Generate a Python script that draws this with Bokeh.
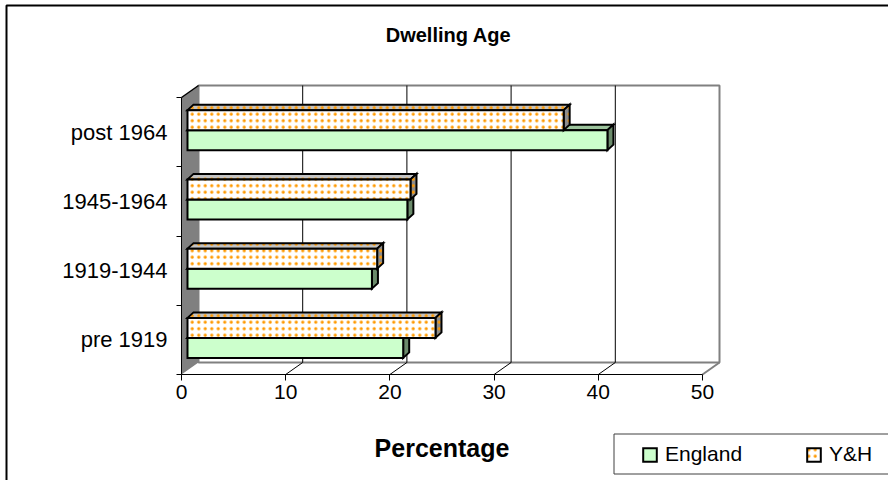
from bokeh.plotting import figure
from bokeh.models import (Range1d, FixedTicker, Legend, LegendItem, Label,
                          PolyAnnotation)
from bokeh.embed import file_html
from bokeh.resources import INLINE

# ---------------- data ----------------
categories = ["pre 1919", "1919-1944", "1945-1964", "post 1964"]
england = [20.7, 17.7, 21.1, 40.3]
yh = [23.8, 18.2, 21.4, 36.1]
x_ticks = [0, 10, 20, 30, 40, 50]
series_names = ["England", "Y&H"]
title_text = "Dwelling Age"
x_title = "Percentage"

# ---------------- geometry (canvas pixels) ----------------
FONT = "Liberation Sans"
W, H = 888, 480
AX_X0, AX_X_END = 181, 702     # front-plane pixels of first / last tick
AX_Y_BOT, AX_Y_TOP = 374, 97   # front-plane pixels of category axis ends
n = len(categories)
x_hi = x_ticks[-1]
PX_X = (AX_X_END - AX_X0) / x_hi
PX_Y = (AX_Y_BOT - AX_Y_TOP) / n


def dx(px):
    return px / PX_X


def dy(px):
    return px / PX_Y


def X(px):
    return (px - AX_X0) / PX_X


def Y(py):
    return -0.5 + (AX_Y_BOT - py) / PX_Y


y_lo, y_hi = -0.5, n - 0.5
D_X, D_Y = dx(17), dy(12)          # depth of the 3D box
BAR_OX, BAR_OY = dx(6), dy(2)      # bar front plane offset
BAR_H = dy(20)
BD_X, BD_Y = dx(6), dy(5.5)        # bar depth

p = figure(width=W, height=H,
           x_range=Range1d(X(0), X(W)), y_range=Range1d(Y(H), Y(0)),
           min_border=0, min_border_left=0, min_border_right=0,
           min_border_top=0, min_border_bottom=0,
           toolbar_location=None, output_backend="svg")
p.xgrid.visible = False
p.ygrid.visible = False
p.outline_line_color = None
p.background_fill_color = "white"
p.border_fill_color = "white"

# ---------------- 3D walls ----------------
p.patch([D_X, x_hi + D_X, x_hi + D_X, D_X],
        [y_lo + D_Y, y_lo + D_Y, y_hi + D_Y, y_hi + D_Y],
        fill_color="white", line_color="#808080", line_width=2)
grid_x = [t + D_X for t in x_ticks[1:-1]]
p.segment(x0=grid_x, y0=[y_lo + D_Y] * len(grid_x), x1=grid_x,
          y1=[y_hi + D_Y] * len(grid_x), line_color="black", line_width=1)
p.patch([0, D_X, D_X, 0], [y_lo, y_lo + D_Y, y_hi + D_Y, y_hi],
        fill_color="#808080", line_color=None)
p.line([0, D_X], [y_hi, y_hi + D_Y], line_color="black", line_width=1.5)
floor_x = x_ticks[1:-1]
p.segment(x0=floor_x, y0=[y_lo] * len(floor_x),
          x1=[t + D_X for t in floor_x], y1=[y_lo + D_Y] * len(floor_x),
          line_color="black", line_width=1)
p.line([x_hi, x_hi + D_X], [y_lo, y_lo + D_Y], line_color="#808080",
       line_width=2)

# ---------------- bars ----------------
styles = [
    dict(front="#CCFFCC", top="#9DC49D", side="#6B8B6B", hatch=None),
    dict(front="#FFFFFF", top="#C4C4C4", side="#8C8C8C", hatch="dot"),
]
front_renderers = []
for k, vals in enumerate([england, yh]):
    st = styles[k]
    bottoms = [i + BAR_OY + (k - 1) * BAR_H for i in range(n)]
    tops = [b + BAR_H for b in bottoms]
    lefts = [BAR_OX] * n
    rights = [v + BAR_OX for v in vals]
    hatch_kw = {}
    if st["hatch"]:
        hatch_kw = dict(hatch_pattern=st["hatch"], hatch_color="#FF9900",
                        hatch_scale=6.5, hatch_weight=1.3)
    p.patches(xs=[[l, r, r + BD_X, l + BD_X] for l, r in zip(lefts, rights)],
              ys=[[t, t, t + BD_Y, t + BD_Y] for t in tops],
              fill_color=st["top"], line_color="black", line_width=2,
              line_join="miter", **hatch_kw)
    p.patches(xs=[[r, r + BD_X, r + BD_X, r] for r in rights],
              ys=[[b, b + BD_Y, t + BD_Y, t] for b, t in zip(bottoms, tops)],
              fill_color=st["side"], line_color="black", line_width=2,
              line_join="miter", **hatch_kw)
    r = p.quad(left=lefts, right=rights, bottom=bottoms, top=tops,
               fill_color=st["front"], line_color="black", line_width=2,
               line_join="miter", **hatch_kw)
    front_renderers.append(r)

# ---------------- axes (fixed inside the frame) ----------------
xa = p.xaxis[0]
xa.fixed_location = y_lo
xa.ticker = FixedTicker(ticks=x_ticks, minor_ticks=[])
xa.bounds = (0, x_hi)
xa.axis_line_color = "black"
xa.major_tick_line_color = "black"
xa.major_tick_out = 6
xa.major_tick_in = 0
xa.minor_tick_out = 0
xa.major_label_standoff = 4
xa.major_label_text_font = FONT
xa.major_label_text_font_size = "21px"
xa.major_label_text_color = "black"
xa.axis_label = x_title
xa.axis_label_standoff = 32
xa.axis_label_text_font = FONT
xa.axis_label_text_font_size = "25px"
xa.axis_label_text_font_style = "bold"
xa.axis_label_text_color = "black"

ya = p.yaxis[0]
ya.fixed_location = 0
ya.ticker = FixedTicker(ticks=list(range(n)),
                        minor_ticks=[i - 0.5 for i in range(n + 1)])
ya.major_label_overrides = {i: c for i, c in enumerate(categories)}
ya.bounds = (y_lo, y_hi)
ya.axis_line_color = "black"
ya.major_tick_out = 0
ya.major_tick_in = 0
ya.minor_tick_out = 5
ya.minor_tick_in = 0
ya.minor_tick_line_color = "black"
ya.major_label_standoff = 9
ya.major_label_text_font = FONT
ya.major_label_text_font_size = "22px"
ya.major_label_text_color = "black"

# ---------------- title ----------------
p.add_layout(Label(x=X(448), y=Y(34), text=title_text, text_align="center",
                   text_baseline="middle", text_font=FONT,
                   text_font_size="20px", text_font_style="bold",
                   text_color="black"))

# ---------------- chart border & legend box ----------------
p.add_layout(PolyAnnotation(xs=[X(6), X(3000), X(3000), X(6)],
                            ys=[Y(5), Y(5), Y(3000), Y(3000)],
                            fill_alpha=0, line_color="black", line_alpha=1,
                            line_width=2))
p.add_layout(PolyAnnotation(xs=[X(613.5), X(3000), X(3000), X(613.5)],
                            ys=[Y(433.5), Y(433.5), Y(473.5), Y(473.5)],
                            fill_alpha=0, line_color="#404040", line_alpha=1,
                            line_width=1))

legend = Legend(items=[LegendItem(label=series_names[0], renderers=[front_renderers[0]]),
                       LegendItem(label=series_names[1], renderers=[front_renderers[1]])],
                location=(641, H - 466), orientation="horizontal",
                padding=0, margin=0, spacing=63, glyph_width=17,
                glyph_height=17, label_standoff=7, label_height=17,
                label_text_font=FONT, label_text_font_size="21px",
                label_text_color="black", border_line_alpha=0,
                background_fill_alpha=0)
p.add_layout(legend)

open("out.html", "w").write(file_html(p, INLINE))
